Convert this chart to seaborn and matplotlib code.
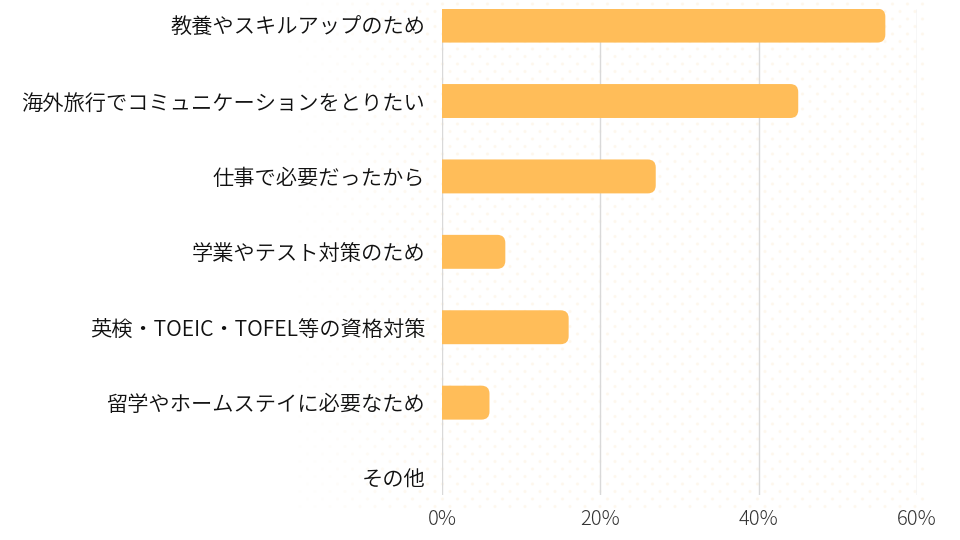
import matplotlib.pyplot as plt
import seaborn as sns
import pandas as pd
import numpy as np
from matplotlib.patches import FancyBboxPatch

reasons = ['教養やスキルアップのため',
           '海外旅行でコミュニケーションをとりたい',
           '仕事で必要だったから',
           '学業やテスト対策のため',
           '英検・TOEIC・TOFEL等の資格対策',
           '留学やホームステイに必要なため',
           'その他']
share = [56, 45, 27, 8, 16, 6, 0]
xticks = [0, 20, 40, 60]
xtick_labels = ['0%', '20%', '40%', '60%']

bar_color = '#FFBD59'

sns.set_theme(style='white')
plt.rcParams['font.family'] = ['Noto Sans CJK JP', 'DejaVu Sans']

df = pd.DataFrame({'reason': reasons, 'share': share})

fig = plt.figure(figsize=(9.6, 5.4), dpi=100)

# faint dotted backdrop
bg = fig.add_axes([0, 0, 1, 1], zorder=0)
bg.set_xlim(0, 960)
bg.set_ylim(540, 0)
bg.axis('off')
gx, gy = np.meshgrid(np.arange(300, 918, 15.0), np.arange(4, 512, 7.5))
gx = gx + (np.round(gy / 7.5) % 2) * 7.5
fade = np.clip((gx - 300) / 120, 0.15, 1)
bg.scatter(gx.ravel(), gy.ravel(), s=5, color='#FDF1DD',
           alpha=fade.ravel() * 0.5, linewidths=0)

ax = fig.add_axes([0.4604, 0.0833, 0.4948, 0.9000], zorder=1)
ax.patch.set_alpha(0)
sns.barplot(data=df, x='share', y='reason', order=reasons, orient='h',
            color=bar_color, width=0.45, ax=ax, saturation=1)

# swap plain bars for ones with rounded right ends
px_x = (0.4948 * 960) / 60.0
px_y = 75.5
for p in list(ax.patches):
    x0, y0, w, h = p.get_x(), p.get_y(), p.get_width(), p.get_height()
    p.remove()
    if w <= 0:
        continue
    r = 8 / px_x
    rb = FancyBboxPatch((x0 - 2, y0), w + 2, h,
                        boxstyle=f'round,pad=0,rounding_size={r}',
                        mutation_aspect=(8 / px_y) / r,
                        facecolor=bar_color, edgecolor='none', zorder=3)
    ax.add_patch(rb)

ax.set_xlim(0, 60)
ax.set_ylim(6.225, -0.22)
ax.set_xticks(xticks)
ax.set_xticklabels(xtick_labels)
ax.grid(axis='x', color='#d9d9d9', linewidth=1)
ax.grid(axis='y', visible=False)
ax.set_axisbelow(True)
for s in ax.spines.values():
    s.set_visible(False)
ax.set_xlabel('')
ax.set_ylabel('')
ax.tick_params(axis='y', length=0, pad=12, labelsize=15.3, labelcolor='#111111')
ax.tick_params(axis='x', length=0, pad=10, labelsize=14.5, labelcolor='#333333')
for t in ax.get_xticklabels():
    t.set_fontweight('light')
for t in ax.get_yticklabels():
    t.set_fontweight(350)

fig.savefig('out.png', dpi=100)
